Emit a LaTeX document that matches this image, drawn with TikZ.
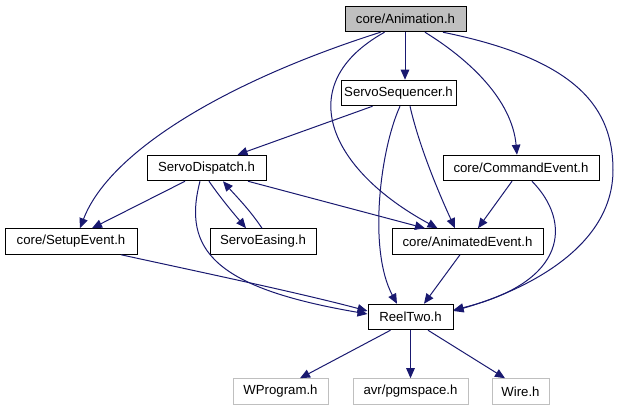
\documentclass[tikz,border=0pt]{standalone}
\usepackage{fontspec}
\setmainfont{Liberation Sans}
\usetikzlibrary{arrows.meta,calc}
\definecolor{edgeblue}{RGB}{25,25,112}
\definecolor{boxgray}{RGB}{191,191,191}
\begin{document}
\begin{tikzpicture}[x=1pt,y=-1pt,
  filebox/.style={draw=black,fill=white,line width=1pt,inner sep=0pt,minimum height=25.5pt,font=\fontsize{13.2}{15}\selectfont},
  rootbox/.style={filebox,fill=boxgray},
  extbox/.style={filebox,draw=boxgray},
  dep/.style={draw=edgeblue,line width=1pt,-{Triangle[length=10pt,width=8.5pt]}}]
\useasboundingbox (0,0) rectangle (622,411);
\node[rootbox,minimum width=121pt] (anim) at (405.5,19) {core/Animation.h};
\node[filebox,minimum width=115pt] (seq) at (398.5,93) {ServoSequencer.h};
\node[filebox,minimum width=119pt] (disp) at (206.5,168) {ServoDispatch.h};
\node[filebox,minimum width=156pt] (cmd) at (521,168) {core/CommandEvent.h};
\node[filebox,minimum width=132pt] (setup) at (71,241.5) {core/SetupEvent.h};
\node[filebox,minimum width=106pt] (eas) at (263,241.5) {ServoEasing.h};
\node[filebox,minimum width=151pt] (aev) at (467.5,241.5) {core/AnimatedEvent.h};
\node[filebox,minimum width=85pt] (reel) at (410.5,317) {ReelTwo.h};
\node[extbox,minimum width=95pt] (wprog) at (280.5,391.5) {WProgram.h};
\node[extbox,minimum width=115pt] (pgm) at (410.5,391.5) {avr/pgmspace.h};
\node[extbox,minimum width=57pt] (wire) at (520.5,391.5) {Wire.h};
% Animation edges
\draw[dep] ($(anim.south)+(-0.5,0)$) -- ($(seq.north)+(6.5,0)$);
\draw[dep] ($(anim.south)+(-25,0)$) .. controls (230,80) and (110,150) .. ($(setup.north)+(9,0)$);
\draw[dep] ($(anim.south)+(-21,0)$) .. controls (290,85) and (330,170) .. ($(aev.north)+(-30,0)$);
\draw[dep] ($(anim.south)+(19.5,0)$) .. controls (470,60) and (512,100) .. ($(cmd.north)+(-4,0)$);
\draw[dep] ($(anim.south)+(37.5,0)$) .. controls (580,60) and (613,110) .. (613,170) .. controls (613,250) and (520,292) .. ($(reel.east)+(0,-6)$);
% ServoSequencer edges
\draw[dep] ($(seq.south)+(-26,0)$) -- ($(disp.north)+(31,0)$);
\draw[dep] ($(seq.south)+(1.5,0)$) .. controls (380,150) and (368,250) .. ($(reel.north)+(-13.5,0)$);
\draw[dep] ($(seq.south)+(11.5,0)$) .. controls (420,150) and (442,200) .. ($(aev.north)+(-12.5,0)$);
% ServoDispatch edges
\draw[dep] ($(disp.south)+(-21.5,0)$) -- ($(setup.north)+(21,0)$);
\draw[dep] ($(disp.south)+(2.5,0)$) .. controls (222,200) and (235,215) .. ($(eas.north)+(-17,0)$);
\draw[dep] ($(eas.north)+(-1,0)$) .. controls (250,210) and (235,195) .. ($(disp.south)+(16.5,0)$);
\draw[dep] ($(disp.south)+(41.5,0)$) -- ($(aev.north)+(-42.5,0)$);
\draw[dep] ($(disp.south)+(-6.5,0)$) .. controls (182,250) and (215,288) .. ($(reel.west)+(0,-3)$);
% SetupEvent, CommandEvent, AnimatedEvent
\draw[dep] ($(setup.south)+(50,0)$) .. controls (200,272) and (300,293) .. ($(reel.west)+(0,-6)$);
\draw[dep] ($(cmd.south)+(-9,0)$) -- ($(aev.north)+(10.5,0)$);
\draw[dep] ($(cmd.south)+(11,0)$) .. controls (572,222) and (568,282) .. ($(reel.east)+(0,-7)$);
\draw[dep] ($(aev.south)+(-7.5,0)$) -- ($(reel.north)+(13.5,0)$);
% ReelTwo edges
\draw[dep] ($(reel.south)+(-20,0)$) -- ($(wprog.north)+(19.5,0)$);
\draw[dep] (reel.south) -- (pgm.north);
\draw[dep] ($(reel.south)+(17.5,0)$) -- ($(wire.north)+(-15.5,0)$);
\end{tikzpicture}
\end{document}
